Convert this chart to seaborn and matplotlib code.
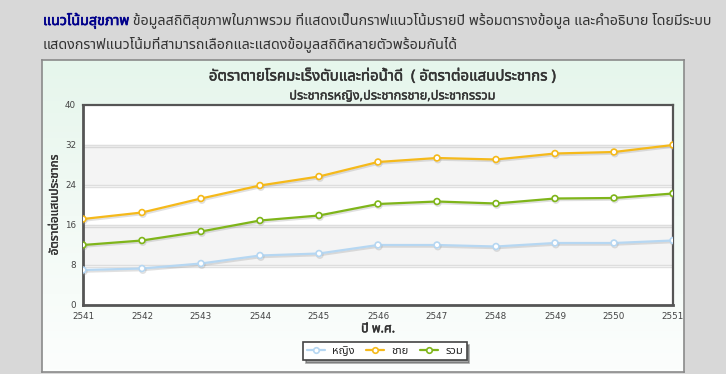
import numpy as np
import pandas as pd
import matplotlib
matplotlib.use("Agg")
import matplotlib.pyplot as plt
import matplotlib.patheffects as pe
from matplotlib import font_manager as fm
from matplotlib.ft2font import FT2Font
from matplotlib.colors import LinearSegmentedColormap
from matplotlib.lines import Line2D
import seaborn as sns

# ---------------- data ----------------
years = [2541, 2542, 2543, 2544, 2545, 2546, 2547, 2548, 2549, 2550, 2551]
female = [7.0, 7.3, 8.3, 9.9, 10.3, 12.0, 12.0, 11.7, 12.4, 12.4, 12.9]
male = [17.2, 18.5, 21.3, 23.9, 25.7, 28.6, 29.4, 29.1, 30.3, 30.6, 32.0]
total = [12.0, 12.9, 14.7, 16.9, 17.9, 20.2, 20.7, 20.3, 21.3, 21.4, 22.3]
series_names = ["หญิง", "ชาย", "รวม"]
yticks = [0, 8, 16, 24, 32, 40]

header_bold = "แนวโน้มสุขภาพ"
header_rest1 = " ข้อมูลสถิติสุขภาพในภาพรวม ที่แสดงเป็นกราฟแนวโน้มรายปี พร้อมตารางข้อมูล และคำอธิบาย โดยมีระบบ"
header_line2 = "แสดงกราฟแนวโน้มที่สามารถเลือกและแสดงข้อมูลสถิติหลายตัวพร้อมกันได้"
title = "อัตราตายโรคมะเร็งตับและท่อน้ำดี  ( อัตราต่อแสนประชากร )"
subtitle = "ประชากรหญิง,ประชากรชาย,ประชากรรวม"
xlabel = "ปี พ.ศ."
ylabel = "อัตราต่อแสนประชากร"

# ---------------- fonts ----------------
thai = []
for f in fm.fontManager.ttflist:
    try:
        cm = FT2Font(f.fname).get_charmap()
    except Exception:
        continue
    if 0x0E01 in cm and 0x0E49 in cm and f.name not in thai:
        thai.append(f.name)
pref = ["Tahoma", "Noto Sans Thai", "Noto Sans Thai UI", "Loma", "Garuda", "Sarabun", "Norasi"]
thai.sort(key=lambda n: pref.index(n) if n in pref else len(pref))

sns.set_theme(style="white")
plt.rcParams["font.family"] = thai + ["DejaVu Sans"]

def bold(color, w=0.4):
    return [pe.withStroke(linewidth=w, foreground=color)]

# ---------------- figure ----------------
W, H = 726, 374
fig = plt.figure(figsize=(W / 100, H / 100), dpi=100)
fig.patch.set_facecolor("#d8d8d8")

def fx(px):
    return px / W

def fy(py):
    return 1 - py / H

# panel with gradient background
pan = fig.add_axes([fx(42), fy(372), fx(684) - fx(42), fy(60) - fy(372)])
grad = np.linspace(0, 1, 100).reshape(-1, 1)
cmap = LinearSegmentedColormap.from_list("g", ["#fcfefd", "#f2faf5", "#e6f6ec"])
pan.imshow(grad, aspect="auto", cmap=cmap, origin="lower", extent=[0, 1, 0, 1])
pan.set_xticks([]); pan.set_yticks([])
for s in pan.spines.values():
    s.set_color("#8a8a8a"); s.set_linewidth(1.2)

# header text
t1 = fig.text(fx(43), fy(21), header_bold, color="#00008b", fontsize=10.3,
              va="center", ha="left", path_effects=bold("#00008b", 0.45))
fig.canvas.draw()
bb = t1.get_window_extent()
fig.text(bb.x1 / W, fy(21), header_rest1, color="#333333", fontsize=10.3,
         va="center", ha="left")
fig.text(fx(43), fy(44), header_line2, color="#333333", fontsize=10.3,
         va="center", ha="left")

fig.text(fx(383), fy(76), title, fontsize=10.8, color="#333333",
         ha="center", va="center", path_effects=bold("#333333", 0.35))
fig.text(fx(392), fy(96), subtitle, fontsize=9.2, color="#333333",
         ha="center", va="center", path_effects=bold("#333333", 0.25))

# main axes
ax = fig.add_axes([fx(83), fy(305), fx(673) - fx(83), fy(105) - fy(305)])
ax.set_facecolor("white")
for lo in (8, 24):
    ax.axhspan(lo, lo + 8, color="#f4f4f4", zorder=0)
for yv in yticks[1:-1]:
    ax.axhline(yv, color="#dedede", lw=1, zorder=0.5)

df = pd.DataFrame({
    "year": years * 3,
    "value": female + male + total,
    "series": [series_names[0]] * len(years) + [series_names[1]] * len(years)
              + [series_names[2]] * len(years),
})
palette = {series_names[0]: "#b6d7f2", series_names[1]: "#f5b91a", series_names[2]: "#7fb51a"}
sns.lineplot(data=df, x="year", y="value", hue="series", palette=palette,
             marker="o", markersize=4.2, markerfacecolor="white",
             markeredgewidth=1.2, linewidth=1.6, ax=ax, zorder=3, legend=False)
for ln in ax.get_lines():
    ln.set_path_effects([pe.SimpleLineShadow(offset=(0.6, -1.2), shadow_color="#999999", alpha=0.3),
                         pe.Normal()])
    ln.set_markeredgecolor(ln.get_color())

ax.set_xlim(years[0], years[-1])
ax.set_ylim(yticks[0], yticks[-1])
ax.set_xticks(years)
ax.set_xticklabels([str(y) for y in years], fontsize=6.3, color="#444444",
                   family=["DejaVu Sans"])
ax.set_yticks(yticks)
ax.set_yticklabels([str(v) for v in yticks], fontsize=6.3, color="#444444",
                   family=["DejaVu Sans"])
ax.tick_params(axis="both", length=0, pad=5)
for name, s in ax.spines.items():
    s.set_color("#555555")
    s.set_linewidth(2 if name in ("left", "bottom") else 1.6)
    s.set_visible(True)
xl = ax.set_xlabel(xlabel, fontsize=9, color="#333333", labelpad=1)
xl.set_path_effects(bold("#333333", 0.35))
yl = ax.set_ylabel(ylabel, fontsize=8.5, color="#333333", labelpad=3)
yl.set_path_effects(bold("#333333", 0.25))

# legend
handles = [Line2D([0], [0], color=palette[n], lw=1.6, marker="o", markersize=4,
                  markerfacecolor="white", markeredgecolor=palette[n],
                  markeredgewidth=1.2) for n in series_names]
leg = fig.legend(handles, series_names, loc="center", bbox_to_anchor=(fx(385), fy(351)),
                 ncol=3, fontsize=8, frameon=True, fancybox=False, shadow=True,
                 handlelength=1.6, columnspacing=1.0, handletextpad=0.7,
                 borderpad=0.3)
leg.get_frame().set_edgecolor("#444444")
leg.get_frame().set_linewidth(1.2)

fig.savefig("out.png", dpi=100, facecolor=fig.get_facecolor())
